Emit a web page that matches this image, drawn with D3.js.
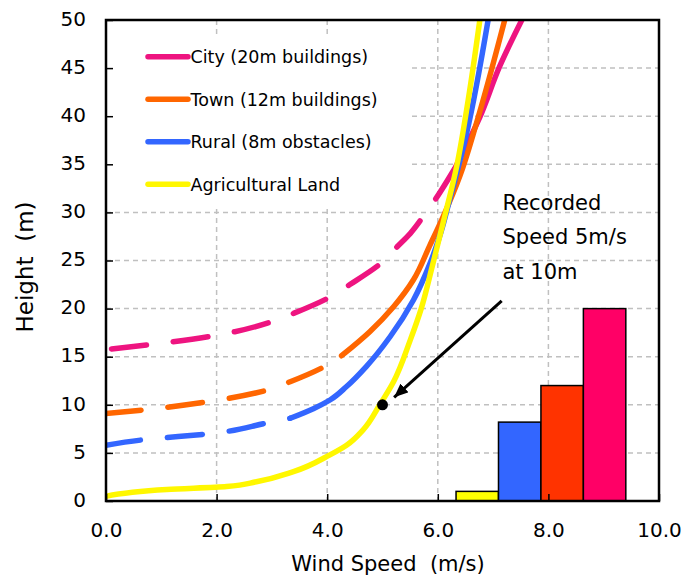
<!DOCTYPE html>
<html><head><meta charset="utf-8">
<script src="https://cdn.jsdelivr.net/npm/d3@7"></script>
<style>body{margin:0;background:#fff}svg{display:block}text{font-family:"DejaVu Sans",Verdana,sans-serif;fill:#000}</style>
</head><body><svg id="c" width="683" height="580"></svg>
<script>
// ---- data ----
const xTicks = [0, 2, 4, 6, 8, 10];
const yTicks = [0, 5, 10, 15, 20, 25, 30, 35, 40, 45, 50];
const seriesNames = ["City (20m buildings)", "Town (12m buildings)", "Rural (8m obstacles)", "Agricultural Land"];
const seriesColors = ["#EE1480", "#FF6600", "#3366FF", "#FFF700"];

const cityDashed = [[0.1,15.8],[0.86,16.3],[1.97,17.2],[2.33,17.6],[3.03,18.7],[3.39,19.5],[4.05,21.2],[4.41,22.5],[5.01,24.9],[5.26,26.4],[5.5,27.8],[5.74,29.6],[5.95,31.3],[6.31,34.6]];
const citySolid = [[6.31,34.6],[6.76,39.9],[7.12,45.2],[7.52,50]];
const townDashed = [[0,9.1],[0.73,9.5],[1.82,10.3],[2.9,11.5],[3.33,12.4],[3.99,14.1],[4.26,15.1]];
const townSolid = [[4.26,15.1],[4.77,17.6],[5.2,20.2],[5.56,23.0],[5.85,26.5],[6.1,29.6],[6.4,33.8],[6.7,39.3],[7.21,50]];
const ruralDashed = [[0,5.8],[0.73,6.4],[1.88,7.0],[2.9,8.1],[3.33,8.6]];
const ruralSolid = [[3.33,8.6],[3.75,9.6],[4.05,10.5],[4.35,11.9],[4.71,14.0],[5.14,17.1],[5.56,20.9],[5.86,24.7],[6.06,28.0],[6.2,31.0],[6.52,38.2],[6.91,50]];
const agriSolid = [[0,0.5],[1.1,1.2],[2.18,1.5],[2.72,2.0],[3.39,3.05],[4.05,4.8],[4.35,5.8],[4.65,7.4],[4.95,10],[5.2,12.4],[5.5,16.7],[5.7,20.0],[5.9,24.4],[6.1,29.0],[6.34,34.75],[6.55,41.7],[6.76,50]];

const barCategories = ["Agricultural", "Rural", "Town", "City"];
const barValues = [1, 8.2, 12, 20];
const barColors = ["#FFFF00", "#3366FF", "#FF3300", "#FF0066"];
const barSpan = [6.33, 9.40];

const recordedPoint = [5, 10];
const arrowFrom = [7.155, 20.8];
const arrowTo = [5.21, 10.78];
const noteLines = ["Recorded", "Speed 5m/s", "at 10m"];
const notePos = [7.17, 30.3];

// ---- layout ----
const svg = d3.select("#c");
const L = 106, R = 659, T = 20, B = 501;
const x = d3.scaleLinear().domain([0, 10]).range([L, R]);
const y = d3.scaleLinear().domain([0, 50]).range([B, T]);

// gridlines
const grid = svg.append("g").attr("stroke", "#C0C0C0").attr("stroke-width", 1.5).attr("stroke-dasharray", "5,4");
grid.selectAll(".gx").data(xTicks.slice(1, -1)).join("line")
  .attr("x1", d => x(d)).attr("x2", d => x(d)).attr("y1", T).attr("y2", B);
grid.selectAll(".gy").data(yTicks.slice(1, -1)).join("line")
  .attr("y1", d => y(d)).attr("y2", d => y(d)).attr("x1", L).attr("x2", R);

// legend background
svg.append("rect").attr("x", L + 1).attr("y", 36).attr("width", 410 - L).attr("height", 169).attr("fill", "#fff");

// bars
const band = d3.scaleBand().domain(barCategories).range([x(barSpan[0]), x(barSpan[1])]).padding(0);
svg.append("g").selectAll("rect").data(barCategories).join("rect")
  .attr("x", d => band(d)).attr("width", band.bandwidth())
  .attr("y", (d, i) => y(barValues[i])).attr("height", (d, i) => y(0) - y(barValues[i]))
  .attr("fill", (d, i) => barColors[i]).attr("stroke", "#000").attr("stroke-width", 1.5);

// clip
svg.append("clipPath").attr("id", "clip").append("rect").attr("x", L).attr("y", T).attr("width", R - L).attr("height", B - T);

const line = d3.line().x(d => x(d[0])).y(d => y(d[1])).curve(d3.curveMonotoneY);
const curves = svg.append("g").attr("clip-path", "url(#clip)").attr("fill", "none").attr("stroke-width", 5.5).attr("stroke-linecap", "round");
const sets = [[cityDashed, citySolid], [townDashed, townSolid], [ruralDashed, ruralSolid], [null, agriSolid]];
sets.forEach((s, i) => {
  if (s[0]) curves.append("path").attr("d", line(s[0])).attr("stroke", seriesColors[i]).attr("stroke-dasharray", "35,27");
  curves.append("path").attr("d", line(s[1])).attr("stroke", seriesColors[i]);
});

// axes
const xAxis = d3.axisBottom(x).tickValues(xTicks).tickSize(-7).tickPadding(22).tickFormat(d3.format(".1f"));
const yAxis = d3.axisLeft(y).tickValues(yTicks).tickSize(-7).tickPadding(20).tickFormat(d3.format("d"));
const gx = svg.append("g").attr("transform", `translate(0,${B})`).call(xAxis);
const gy = svg.append("g").attr("transform", `translate(${L},0)`).call(yAxis);
[gx, gy].forEach(g => {
  g.select(".domain").remove();
  g.selectAll(".tick line").attr("stroke", "#000").attr("stroke-width", 1.5);
  g.selectAll(".tick text").attr("font-size", 20).attr("font-family", "DejaVu Sans");
});
gy.selectAll(".tick text").attr("dy", "0.26em");

// frame
svg.append("rect").attr("x", L).attr("y", T).attr("width", R - L).attr("height", B - T)
  .attr("fill", "none").attr("stroke", "#000").attr("stroke-width", 2.5);

// axis titles
svg.append("text").attr("x", 388).attr("y", 571).attr("text-anchor", "middle").attr("font-size", 21)
  .text("Wind Speed\u00A0 (m/s)");
svg.append("text").attr("transform", "translate(33,267) rotate(-90)").attr("text-anchor", "middle").attr("font-size", 23)
  .text("Height\u00A0 (m)");

// legend
const lg = svg.append("g");
seriesNames.forEach((n, i) => {
  const yy = 56.7 + i * 42.5;
  lg.append("line").attr("x1", 148).attr("x2", 188).attr("y1", yy).attr("y2", yy)
    .attr("stroke", seriesColors[i]).attr("stroke-width", 5.5).attr("stroke-linecap", "round");
  lg.append("text").attr("x", 190.5).attr("y", yy + 6.5).attr("font-size", 17.5).text(n);
});

// arrow + point + note
const defs = svg.append("defs");
defs.append("marker").attr("id", "ah").attr("markerUnits", "userSpaceOnUse")
  .attr("viewBox", "0 0 14 12").attr("refX", 14).attr("refY", 6).attr("markerWidth", 14).attr("markerHeight", 12)
  .attr("orient", "auto").append("path").attr("d", "M0,0 L14,6 L0,12 Z").attr("fill", "#000");
svg.append("line").attr("x1", x(arrowFrom[0])).attr("y1", y(arrowFrom[1])).attr("x2", x(arrowTo[0])).attr("y2", y(arrowTo[1]))
  .attr("stroke", "#000").attr("stroke-width", 3).attr("marker-end", "url(#ah)");
svg.append("circle").attr("cx", x(recordedPoint[0])).attr("cy", y(recordedPoint[1])).attr("r", 5.5).attr("fill", "#000");
noteLines.forEach((t, i) => {
  svg.append("text").attr("x", x(notePos[0])).attr("y", y(notePos[1]) + i * 34.5).attr("font-size", 21).text(t);
});
</script></body></html>
